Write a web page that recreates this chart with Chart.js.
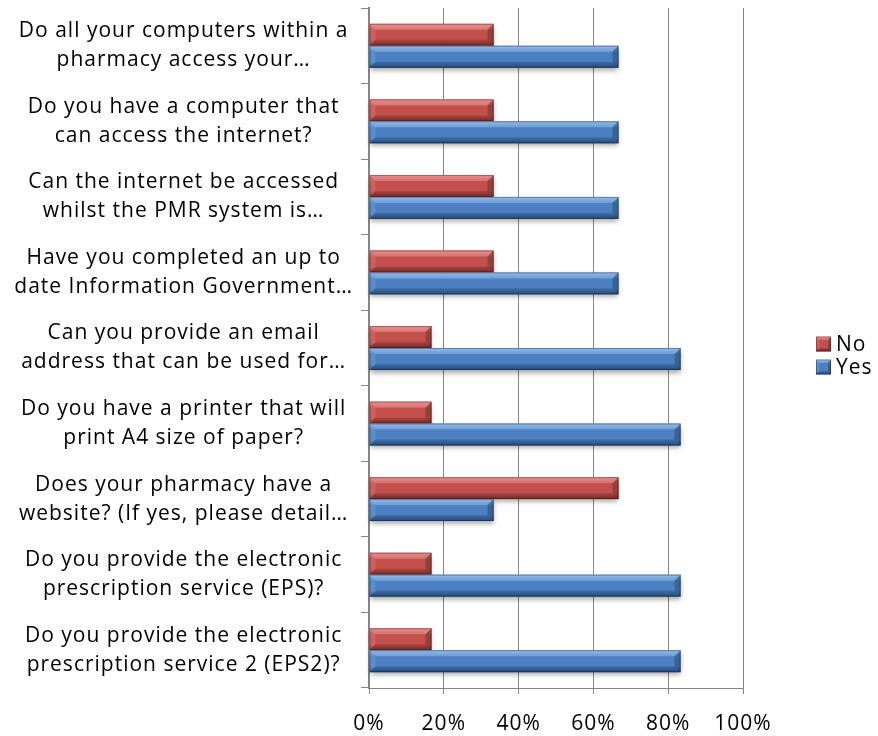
<!DOCTYPE html>
<html><head><meta charset="utf-8">
<script src="https://cdn.jsdelivr.net/npm/chart.js@4/dist/chart.umd.min.js"></script>
<style>html,body{margin:0;padding:0;background:#fff}#wrap{width:878px;height:736px;position:relative}</style>
</head><body><div id="wrap"><canvas id="c"></canvas></div>
<script>
const categories = [
  ["Do all your computers within a", "pharmacy access your…"],
  ["Do you have a computer that", "can access the internet?"],
  ["Can the internet be accessed", "whilst the PMR system is…"],
  ["Have you completed an up to", "date Information Government…"],
  ["Can you provide an email", "address that can be used for…"],
  ["Do you have a printer that will", "print A4 size of paper?"],
  ["Does your pharmacy have a", "website? (If yes, please detail…"],
  ["Do you provide the electronic", "prescription service (EPS)?"],
  ["Do you provide the electronic", "prescription service 2 (EPS2)?"]
];
const seriesNames = ["No", "Yes"];
const noValues  = [0.333, 0.333, 0.333, 0.333, 0.167, 0.167, 0.667, 0.167, 0.167];
const yesValues = [0.667, 0.667, 0.667, 0.667, 0.833, 0.833, 0.333, 0.833, 0.833];
const xTickLabels = ["0%", "20%", "40%", "60%", "80%", "100%"];

const FONT = "'Open Sans', Lato, sans-serif";
const FSIZE = 21;
const SPACING = "1px";
const palette = [
  {light: "#e9706d", mid: "#c4504c", dark: "#8a302d", base: "#c0504d"},
  {light: "#74aaec", mid: "#4b80c2", dark: "#2b5890", base: "#4f81bd"}
];

function makeGrad(ctx, top, h, c) {
  const g = ctx.createLinearGradient(0, top, 0, top + h);
  g.addColorStop(0, c.light);
  g.addColorStop(0.3, c.mid);
  g.addColorStop(0.75, c.mid);
  g.addColorStop(1, c.dark);
  return g;
}

function drawBevelRect(ctx, l, t, r, bo, c, b, shadow) {
  ctx.save();
  if (shadow) {
    ctx.shadowColor = "rgba(0,0,0,0.35)";
    ctx.shadowBlur = 5;
    ctx.shadowOffsetY = 3;
  }
  ctx.fillStyle = makeGrad(ctx, t, bo - t, c);
  ctx.fillRect(l, t, r - l, bo - t);
  ctx.restore();
  ctx.save();
  ctx.fillStyle = "rgba(255,255,255,0.2)";
  ctx.beginPath(); ctx.moveTo(l, t); ctx.lineTo(r, t); ctx.lineTo(r - b, t + b); ctx.lineTo(l + b, t + b); ctx.closePath(); ctx.fill();
  ctx.fillStyle = "rgba(0,0,0,0.15)";
  ctx.beginPath(); ctx.moveTo(l, bo); ctx.lineTo(r, bo); ctx.lineTo(r - b, bo - b); ctx.lineTo(l + b, bo - b); ctx.closePath(); ctx.fill();
  ctx.fillStyle = "rgba(0,0,0,0.22)";
  ctx.beginPath(); ctx.moveTo(r, t); ctx.lineTo(r, bo); ctx.lineTo(r - b, bo - b); ctx.lineTo(r - b, t + b); ctx.closePath(); ctx.fill();
  ctx.fillStyle = "rgba(255,255,255,0.1)";
  ctx.beginPath(); ctx.moveTo(l, t); ctx.lineTo(l, bo); ctx.lineTo(l + b, bo - b); ctx.lineTo(l + b, t + b); ctx.closePath(); ctx.fill();
  ctx.strokeStyle = "rgba(0,0,0,0.3)";
  ctx.lineWidth = 1;
  ctx.strokeRect(l + 0.5, t + 0.5, r - l - 1, bo - t - 1);
  ctx.restore();
}

const spacingPlugin = {
  id: "spacing",
  beforeDraw(chart) { chart.ctx.letterSpacing = SPACING; }
};

const barStylePlugin = {
  id: "barstyle",
  afterDatasetsDraw(chart) {
    const ctx = chart.ctx;
    chart.data.datasets.forEach((ds, i) => {
      chart.getDatasetMeta(i).data.forEach(el => {
        const l = el.base, r = el.x, t = el.y - el.height / 2, bo = el.y + el.height / 2;
        drawBevelRect(ctx, l, t, r, bo, palette[i], 6, true);
      });
    });
  }
};

const legendPlugin = {
  id: "sidelegend",
  afterDraw(chart) {
    const ctx = chart.ctx;
    ctx.save();
    ctx.letterSpacing = SPACING;
    ctx.font = FSIZE + "px " + FONT;
    ctx.textAlign = "left";
    ctx.textBaseline = "middle";
    const midY = (chart.chartArea.top + chart.chartArea.bottom) / 2;
    const lx = 816, box = 15;
    seriesNames.forEach((name, i) => {
      const cy = midY - 4 + i * 23;
      drawBevelRect(ctx, lx, cy - box / 2, lx + box, cy + box / 2, palette[i], 3, false);
      ctx.fillStyle = "#000";
      ctx.fillText(name, lx + box + 5, cy + 1);
    });
    ctx.restore();
  }
};

new Chart(document.getElementById("c"), {
  type: "bar",
  data: {
    labels: categories,
    datasets: [
      {label: seriesNames[0], data: noValues, backgroundColor: palette[0].base, categoryPercentage: 0.58, barPercentage: 1.0},
      {label: seriesNames[1], data: yesValues, backgroundColor: palette[1].base, categoryPercentage: 0.58, barPercentage: 1.0}
    ]
  },
  options: {
    indexAxis: "y",
    responsive: true,
    maintainAspectRatio: false,
    animation: false,
    layout: {padding: {top: 8, right: 135, left: 0, bottom: 0}},
    plugins: {legend: {display: false}, tooltip: {enabled: false}},
    scales: {
      x: {
        min: 0, max: 1,
        ticks: {stepSize: 0.2, color: "#000", font: {family: FONT, size: FSIZE}, padding: 17,
          callback: (v, i) => xTickLabels[i]},
        grid: {color: "#868686", lineWidth: 1, tickLength: 6, drawTicks: true},
        border: {color: "#868686", width: 1},
        afterFit(s) { s.height = 48; }
      },
      y: {
        ticks: {color: "#000", font: {family: FONT, size: FSIZE, lineHeight: 29 / 21},
          crossAlign: "center", padding: 22, autoSkip: false},
        grid: {drawOnChartArea: false, color: "#868686", tickLength: 8, offset: true},
        border: {color: "#868686", width: 2},
        afterFit(s) { s.width = 369; s.paddingTop = 0; s.paddingBottom = 0; }
      }
    }
  },
  plugins: [spacingPlugin, barStylePlugin, legendPlugin]
});
</script></body></html>
